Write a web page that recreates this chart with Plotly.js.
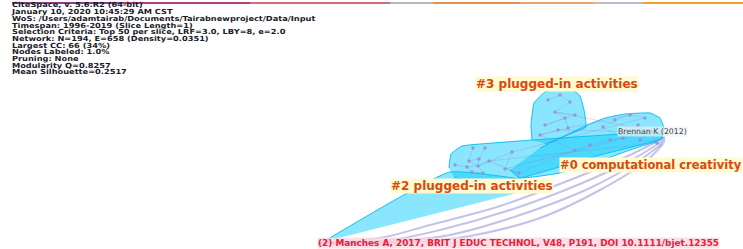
<!DOCTYPE html>
<html><head><meta charset="utf-8">
<script src="https://cdn.plot.ly/plotly-3.0.1.min.js"></script>
<style>html,body{margin:0;padding:0;background:#fff}#g{width:743px;height:249px}</style>
</head><body><div id="g"></div>
<script>
// ---- header text lines ----
const headerLines = [
  "CiteSpace, v. 5.6.R2 (64-bit)",
  "January 10, 2020 10:45:29 AM CST",
  "WoS: /Users/adamtairab/Documents/Tairabnewproject/Data/Input",
  "Timespan: 1996-2019 (Slice Length=1)",
  "Selection Criteria: Top 50 per slice, LRF=3.0, LBY=8, e=2.0",
  "Network: N=194, E=658 (Density=0.0351)",
  "Largest CC: 66 (34%)",
  "Nodes Labeled: 1.0%",
  "Pruning: None",
  "Modularity Q=0.8257",
  "Mean Silhouette=0.2517"
];
// ---- timeline bar (year colour segments) ----
const timeBreaks = [12, 120, 250, 390, 433, 520, 593, 600, 643, 743];
const timeColors = ["#8e3a8e","#b0407a","#d06a7c","#b9b9b9","#e89050","#e9a070","#f0b080","#b5bccb","#f0a428"];
// ---- cluster hulls ----
const hull3x = [532,531,534,545,557,572,580,584,586,575,545];
const hull3y = [140,125,103,92,88,89,96,110,127,132,144];
const hull0x = [540,585,605,625,650,660,664,661,630,597,560,520,510];
const hull0y = [148,126,118,114,113,118,128,139,150,162,173,178,170];
const hull2x = [449,451,462,480,660,663,600,520,470,454];
const hull2y = [168,154,146,144,133,138,155,178,182,177];
const tail2x = [323,450,553];
const tail2y = [242,172,184];
// ---- nodes ----
const nodeX = [469,479,489,467,478,483,472,485,473,512,505,519,455,
               548,560,570,555,565,545,575,558,540,568,
               603,623,638,650,657,615,630,645,610,590,575,640,652];
const nodeY = [161,159,161,167,166,173,172,148,148,152,169,173,165,
               100,95,102,112,118,125,115,130,135,128,
               127,138,125,132,143,120,115,118,140,145,150,140,131];
const edgeA = [0,0,1,2,3,4,5,6,7,8,9,10,11,12,4,13,14,15,16,17,18,19,20,21,22,23,24,25,26,27,28,29,30,31,32,33,34,9,11,20,21,2,10,16,22];
const edgeB = [4,1,4,4,4,5,6,3,1,0,10,11,2,3,9,14,15,16,17,18,19,16,21,22,17,24,25,26,27,34,23,28,29,24,31,32,26,30,33,26,33,27,35,35,29];
// ---- long citation curves to Manches A ----
const curvesX = [
  [318,380,430,500,570,630,665],
  [318,390,440,510,580,635,665],
  [318,400,450,520,590,640,665],
  [330,420,470,540,600,645,663]
];
const curvesY = [
  [243,238,225,206,180,155,137],
  [243,240,230,210,184,158,139],
  [243,241,235,215,188,160,141],
  [244,242,236,218,190,162,144]
];
// ---- labels ----
const clusterLabels = ["#3 plugged-in activities","#0 computational creativity","#2 plugged-in activities"];
const nodeLabel = "Brennan K (2012)";
const citeLabel = "(2) Manches A, 2017, BRIT J EDUC TECHNOL, V48, P191, DOI 10.1111/bjet.12355";

const traces = [];
for (let i = 0; i < timeColors.length; i++) {
  traces.push({x:[timeBreaks[i], timeBreaks[i+1]], y:[3,3], mode:'lines',
    line:{color:timeColors[i], width:2}, hoverinfo:'skip', showlegend:false});
}
curvesX.forEach((cx, i) => {
  traces.push({x:cx, y:curvesY[i], mode:'lines', line:{shape:'spline', color:'rgba(115,110,200,0.42)', width:2},
    hoverinfo:'skip', showlegend:false});
});
const fill = 'rgba(0,200,252,0.46)', lc = 'rgba(0,185,240,0.9)';
[[tail2x,tail2y],[hull2x,hull2y],[hull0x,hull0y],[hull3x,hull3y]].forEach(h => {
  traces.push({x:h[0], y:h[1], mode:'lines', fill:'toself', fillcolor:fill,
    line:{color:lc, width:1, shape:'spline', smoothing:0.35}, hoverinfo:'skip', showlegend:false});
});
const ex = [], ey = [];
edgeA.forEach((a, i) => { const b = edgeB[i]; ex.push(nodeX[a], nodeX[b], null); ey.push(nodeY[a], nodeY[b], null); });
traces.push({x:ex, y:ey, mode:'lines', line:{color:'rgba(140,130,205,0.4)', width:0.7}, hoverinfo:'skip', showlegend:false});
traces.push({x:nodeX, y:nodeY, mode:'markers', marker:{size:3.5, color:'rgba(150,140,210,0.85)'}, hoverinfo:'skip', showlegend:false});
traces.push({x:headerLines.map(() => 12), y:headerLines.map((_, i) => 5.7 + i*6.7), mode:'text',
  text:headerLines.map(t => '<b>' + t + '</b>'), textposition:'middle right',
  textfont:{family:'DejaVu Sans', size:7, color:'#1a1a28'}, hoverinfo:'skip', showlegend:false});

const labFont = {family:'DejaVu Sans', size:12, color:'#d9480f'};
const annotations = [
  {x:557, y:84, xref:'x', yref:'y', text:'<b>'+clusterLabels[0]+'</b>', showarrow:false, xanchor:'center',
    font:labFont, bgcolor:'#fffad0', borderpad:0},
  {x:743, y:165, xref:'x', yref:'y', text:'<b>'+clusterLabels[1]+'</b>', showarrow:false, xanchor:'right',
    font:{family:'DejaVu Sans', size:11.5, color:'#d9480f'}, bgcolor:'#fffad0', borderpad:0},
  {x:472, y:186, xref:'x', yref:'y', text:'<b>'+clusterLabels[2]+'</b>', showarrow:false, xanchor:'center',
    font:labFont, bgcolor:'#fffad0', borderpad:0},
  {x:652, y:131, xref:'x', yref:'y', text:nodeLabel, showarrow:false, xanchor:'center',
    font:{family:'DejaVu Sans', size:7.8, color:'#444'}, bgcolor:'rgba(235,240,245,0.7)', borderpad:0},
  {x:317, y:243, xref:'x', yref:'y', text:'<b>'+citeLabel+'</b>', showarrow:false, xanchor:'left',
    font:{family:'DejaVu Sans', size:8.9, color:'#e8203a'}, bgcolor:'rgba(252,215,225,0.8)', borderpad:0}
];

Plotly.newPlot('g', traces, {
  width:743, height:249, margin:{l:0,r:0,t:0,b:0},
  paper_bgcolor:'#fff', plot_bgcolor:'#fff',
  xaxis:{range:[0,743], visible:false, fixedrange:true},
  yaxis:{range:[249,0], visible:false, fixedrange:true},
  annotations:annotations, showlegend:false
}, {staticPlot:true}).then(gd => {
  // the original header is drawn in a wide face: stretch the header lines horizontally about their left edge
  const traceEls = gd.querySelectorAll('.scatterlayer .trace');
  const hdr = traceEls[traceEls.length - 1];
  const k = 1.18, x0 = 12;
  hdr.querySelectorAll('.textpoint text').forEach(t => {
    t.setAttribute('transform', 'matrix(' + k + ',0,0,1,' + (-(k - 1) * x0) + ',0)');
  });
});
</script></body></html>
